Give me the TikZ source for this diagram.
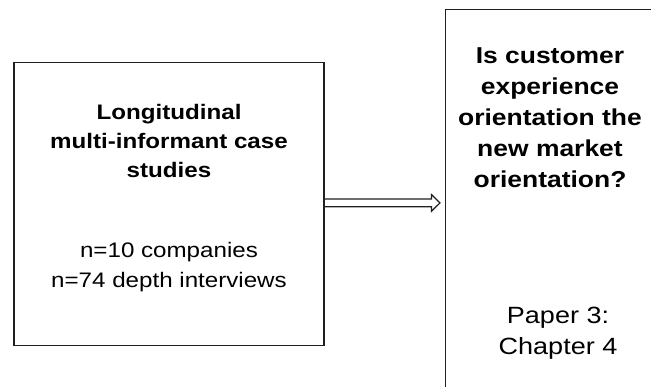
\documentclass[tikz,border=0pt]{standalone}
\usepackage{fontspec}
\usepackage{graphicx}
\setmainfont{Liberation Sans}
\usetikzlibrary{calc}
% slightly widened lettering
\newcommand{\wideline}[1]{\scalebox{1.15}[1]{#1}}
\begin{document}
\begin{tikzpicture}[x=1pt,y=-1pt,
  frame/.style={draw=black!88, line width=1.3pt, inner sep=0pt, outer sep=0pt},
  arrowline/.style={draw=black!88, line width=1.2pt, line join=miter},
  label/.style={align=center, inner sep=0pt, anchor=north},
  headsmall/.style={label, font=\bfseries\fontsize{21}{29}\selectfont},
  bodysmall/.style={label, font=\fontsize{21}{29.5}\selectfont},
  headlarge/.style={label, font=\bfseries\fontsize{23}{31}\selectfont},
  bodylarge/.style={label, font=\fontsize{23.5}{31}\selectfont}
]
\useasboundingbox (0,0) rectangle (651,387);
\clip (0,0) rectangle (651,387);

% boxes
\node[frame, minimum width=310pt, minimum height=282.8pt] (study) at (169,204.1) {};
\node[frame, anchor=north west, minimum width=260pt, minimum height=420pt] (paper) at (445.5,9.5) {};

% texts
\node[headsmall] (method) at (169,104.5)
  {\wideline{Longitudinal}\\\wideline{multi-informant case}\\\wideline{studies}};
\node[bodysmall] (sample) at (169,242.5)
  {\wideline{n=10 companies}\\\wideline{n=74 depth interviews}};
\node[headlarge] (question) at (550,47.5)
  {\wideline{Is customer}\\\wideline{experience}\\\wideline{orientation the}\\\wideline{new market}\\\wideline{orientation?}};
\node[bodylarge] (chapter) at (558,306.5)
  {\wideline{Paper 3:}\\\wideline{Chapter 4}};

% block arrow between the boxes
\coordinate (a) at ($(study.east)+(0,-1.2)$);
\coordinate (tip) at ($(paper.north west |- a)+(-5.5,0)$);
\draw[arrowline] ($(a)+(0,-3.8)$) -- ($(tip)+(-8.5,-3.8)$) -- ($(tip)+(-8.5,-8.3)$)
  -- (tip) -- ($(tip)+(-8.5,8.3)$) -- ($(tip)+(-8.5,3.8)$) -- ($(a)+(0,3.8)$);
\end{tikzpicture}
\end{document}
